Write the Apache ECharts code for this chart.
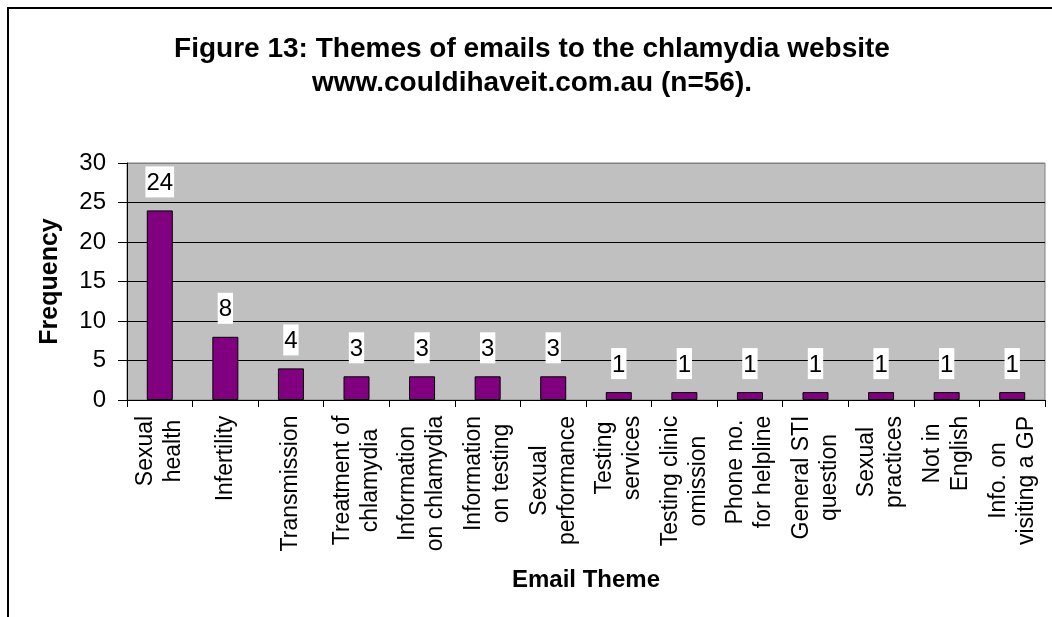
<!DOCTYPE html>
<html>
<head>
<meta charset="utf-8">
<script src="https://cdn.jsdelivr.net/npm/echarts@6/dist/echarts.min.js"></script>
<style>
  html, body { margin: 0; padding: 0; background: #fff; }
  #chart { width: 1052px; height: 617px; }
</style>
</head>
<body>
<div id="chart"></div>
<script>
// data
var themes = [
  'Sexual\nhealth', 'Infertility', 'Transmission', 'Treatment of\nchlamydia',
  'Information\non chlamydia', 'Information\non testing', 'Sexual\nperformance',
  'Testing\nservices', 'Testing clinic\nomission', 'Phone no.\nfor helpline',
  'General STI\nquestion', 'Sexual\npractices', 'Not in\nEnglish', 'Info. on\nvisiting a GP'
];
var counts = [24, 8, 4, 3, 3, 3, 3, 1, 1, 1, 1, 1, 1, 1];
var yTicks = [0, 5, 10, 15, 20, 25, 30];

var FONT = 'Arial';
var catSize = 23;

// width of the longest line of each label, so the lines can be centred inside the block
var ctx = document.createElement('canvas').getContext('2d');
ctx.font = catSize + 'px ' + FONT;
var rich = {};
themes.forEach(function (t, i) {
  var w = 0;
  t.split('\n').forEach(function (line) { w = Math.max(w, ctx.measureText(line).width); });
  rich['c' + i] = { width: Math.ceil(w) + 1, align: 'center', fontSize: catSize, fontFamily: FONT, lineHeight: 28, color: '#000' };
});

var chart = echarts.init(document.getElementById('chart'));
chart.setOption({
  backgroundColor: '#fff',
  animation: false,
  title: {
    text: 'Figure 13: Themes of emails to the chlamydia website\nwww.couldihaveit.com.au (n=56).',
    left: 527,
    top: 27,
    textAlign: 'center',
    textStyle: { fontFamily: FONT, fontSize: 28, fontWeight: 'bold', color: '#000', lineHeight: 34 }
  },
  graphic: [{
    type: 'rect',
    shape: { x: 8, y: 8, width: 1200, height: 800 },
    style: { fill: 'none', stroke: '#000', lineWidth: 2 },
    silent: true
  }],
  grid: {
    left: 127, right: 7, top: 163, bottom: 217,
    show: true, backgroundColor: '#C0C0C0', borderColor: '#808080', borderWidth: 1
  },
  xAxis: {
    type: 'category',
    data: themes,
    name: 'Email Theme',
    nameLocation: 'middle',
    nameGap: 168,
    nameTextStyle: { fontFamily: FONT, fontSize: 24, fontWeight: 'bold', color: '#000' },
    axisLine: { lineStyle: { color: '#000', width: 1 } },
    axisTick: { show: true, length: 7, lineStyle: { color: '#000' } },
    axisLabel: {
      interval: 0, rotate: 90, margin: 15,
      formatter: function (v, i) {
        return v.split('\n').map(function (l) { return '{c' + i + '|' + l + '}'; }).join('\n');
      },
      rich: rich
    }
  },
  yAxis: {
    type: 'value',
    min: 0, max: 30, interval: 5,
    name: 'Frequency',
    nameLocation: 'middle',
    nameGap: 64,
    nameTextStyle: { fontFamily: FONT, fontSize: 25, fontWeight: 'bold', color: '#000' },
    axisLine: { show: true, lineStyle: { color: '#000', width: 1 } },
    axisTick: { show: true, length: 9, lineStyle: { color: '#000' } },
    axisLabel: {
      margin: 21, fontFamily: FONT, fontSize: 24, color: '#000',
      formatter: function (v) { return yTicks.indexOf(v) >= 0 ? String(v) : ''; }
    },
    splitLine: {
      show: true,
      lineStyle: { color: ['#000', '#000', '#000', '#000', '#000', '#000', '#808080'], width: 1 }
    }
  },
  series: [{
    type: 'bar',
    data: counts,
    barWidth: 26,
    itemStyle: { color: '#800080', borderColor: '#000', borderWidth: 1 },
    label: {
      show: true,
      position: 'top',
      distance: 13,
      fontFamily: FONT,
      fontSize: 24,
      lineHeight: 26,
      color: '#000',
      backgroundColor: '#fff',
      padding: [4, 1, 1, 1]
    }
  }]
});
</script>
</body>
</html>
